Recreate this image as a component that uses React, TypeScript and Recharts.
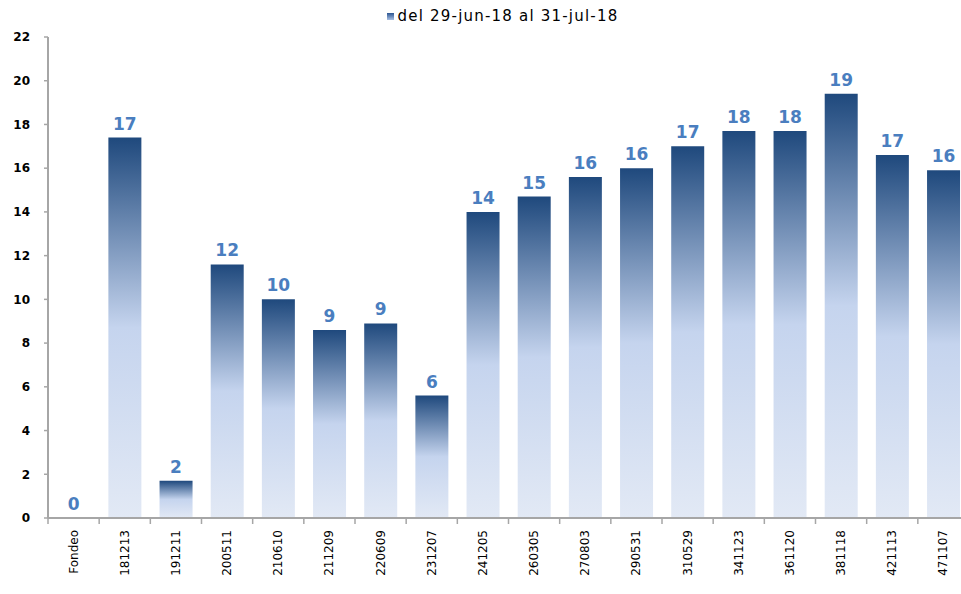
import { BarChart, Bar, XAxis, YAxis, Legend, LabelList } from 'recharts'

const CATEGORIES = [
  'Fondeo', '181213', '191211', '200511', '210610', '211209', '220609', '231207', '241205',
  '260305', '270803', '290531', '310529', '341123', '361120', '381118', '421113', '471107',
]
const VALUES = [0, 17.4, 1.7, 11.6, 10.0, 8.6, 8.9, 5.6, 14.0, 14.7, 15.6, 16.0, 17.0, 17.7, 17.7, 19.4, 16.6, 15.9]
const Y_TICKS = [0, 2, 4, 6, 8, 10, 12, 14, 16, 18, 20, 22]
const SERIES_NAME = 'del 29-jun-18 al 31-jul-18'

const CHART_W = 975
const CHART_H = 594
const Y_AXIS_W = 48
const MARGIN_RIGHT = 6
const BAND = (CHART_W - Y_AXIS_W - MARGIN_RIGHT) / CATEGORIES.length
const FONT = '"DejaVu Sans", Verdana, sans-serif'
const AXIS_GREY = '#a6a6a6'

const data = CATEGORIES.map((name, i) => ({ name, value: VALUES[i] }))

// x ticks: rotated label, tick mark at the left band boundary (Excel style)
function XTick(props: any) {
  const { x, y, payload } = props
  return (
    <g>
      <line x1={x - BAND / 2} x2={x - BAND / 2} y1={y - 8} y2={y - 2} stroke={AXIS_GREY} strokeWidth={1.5} />
      <text
        x={0}
        y={0}
        transform={`translate(${x + 4},${y + 4}) rotate(-90)`}
        textAnchor="end"
        fontSize={12}
        fontFamily={FONT}
        fill="#000"
      >
        {payload.value}
      </text>
    </g>
  )
}

function LegendContent() {
  return (
    <div style={{ display: 'flex', justifyContent: 'center', alignItems: 'center', paddingLeft: 36, fontFamily: FONT, fontSize: 15, letterSpacing: 1.2, color: '#000' }}>
      <span style={{ display: 'inline-block', width: 7, height: 7, marginRight: 4, background: 'linear-gradient(#2b5591, #a9c0e4)' }} />
      <span>{SERIES_NAME}</span>
    </div>
  )
}

export default function App() {
  return (
    <div style={{ position: 'absolute', left: 0, top: 0, width: 961, height: 594, overflow: 'hidden', background: '#fff' }}>
      <BarChart
        width={CHART_W}
        height={CHART_H}
        data={data}
        margin={{ top: 19, right: MARGIN_RIGHT, bottom: 0, left: 0 }}
        barCategoryGap="18%"
      >
        <defs>
          <linearGradient id="barFill" x1="0" y1="0" x2="0" y2="1">
            <stop offset="0%" stopColor="#1f497d" />
            <stop offset="50%" stopColor="#c5d4ee" />
            <stop offset="100%" stopColor="#e2e9f5" />
          </linearGradient>
        </defs>
        <Legend verticalAlign="top" align="center" content={<LegendContent />} wrapperStyle={{ top: 7 }} />
        <XAxis
          dataKey="name"
          height={76}
          interval={0}
          tick={<XTick />}
          tickLine={false}
          axisLine={{ stroke: AXIS_GREY, strokeWidth: 2 }}
        />
        <YAxis
          width={Y_AXIS_W}
          domain={[0, 22]}
          ticks={Y_TICKS}
          interval={0}
          tick={{ fill: '#000', fontSize: 12, fontFamily: FONT, fontWeight: 600 }}
          tickSize={4}
          tickMargin={14}
          tickLine={{ stroke: AXIS_GREY, strokeWidth: 1.5 }}
          axisLine={{ stroke: AXIS_GREY, strokeWidth: 2 }}
        />
        <Bar dataKey="value" name={SERIES_NAME} fill="url(#barFill)" minPointSize={0.01} isAnimationActive={false}>
          <LabelList
            dataKey="value"
            position="top"
            offset={8}
            formatter={(v: any) => Math.round(Number(v))}
            style={{ fill: '#4a7ebf', fontSize: 17, fontWeight: 700, fontFamily: FONT }}
          />
        </Bar>
      </BarChart>
    </div>
  )
}
